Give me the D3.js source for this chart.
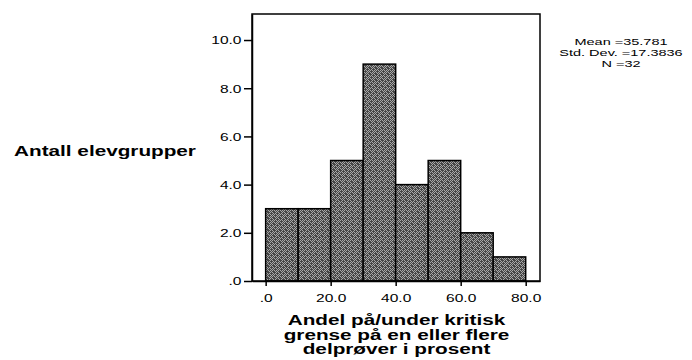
<!DOCTYPE html>
<html lang="no">
<head>
  <meta charset="utf-8">
  <title>Antall elevgrupper</title>
  <script src="https://d3js.org/d3.v7.min.js"></script>
  <style>
    body { margin: 0; background: #fff; }
    #chart text { font-family: "Liberation Sans", Arial, sans-serif; fill: #000; }
  </style>
</head>
<body>
  <div id="chart"></div>
  <script>
    "use strict"

    // data
    var binStarts = [0, 10, 20, 30, 40, 50, 60, 70];
    var binEnds   = [10, 20, 30, 40, 50, 60, 70, 80];
    var counts    = [3, 3, 5, 9, 4, 5, 2, 1];
    var yTicks = [0, 2, 4, 6, 8, 10];
    var xTicks = [0, 20, 40, 60, 80];
    var statLines = ["Mean =35.781", "Std. Dev. =17.3836", "N =32"];
    var yTitle = "Antall elevgrupper";
    var xTitle = ["Andel på/under kritisk", "grense på en eller flere", "delprøver i prosent"];

    var largura = 692, altura = 360;
    var stretch = 1.48;   // the original export is wide, text is stretched sideways
    var fmt = function(d) { return d === 0 ? ".0" : d.toFixed(1); };

    var svg = d3.select('#chart').append('svg')
                .attr('width', largura)
                .attr('height', altura);

    // fill texture
    var pat = svg.append('defs').append('pattern')
                 .attr('id', 'tex')
                 .attr('patternUnits', 'userSpaceOnUse')
                 .attr('width', 6).attr('height', 6);
    pat.append('rect').attr('width', 6).attr('height', 6).attr('fill', '#464646');
    [[0,0],[2,0],[4,0],[1,1],[5,1],[0,2],[2,2],[3,3],[5,3],[0,4],[2,4],[4,4],[1,5],[3,5]].forEach(function(p) {
      pat.append('rect').attr('x', p[0]).attr('y', p[1]).attr('width', 1).attr('height', 1).attr('fill', '#a8a8a8');
    });

    var x = d3.scaleLinear().domain([-4.2, 84.4]).range([252, 540]);
    var y = d3.scaleLinear().domain([0, 11.08]).range([281, 14]);

    // bars
    svg.selectAll('rect.bar')
       .data(counts)
       .enter()
       .append('rect')
         .attr('class', 'bar')
         .attr('x', (d, i) => x(binStarts[i]))
         .attr('width', (d, i) => x(binEnds[i]) - x(binStarts[i]))
         .attr('y', d => y(d))
         .attr('height', d => y(0) - y(d))
         .attr('fill', 'url(#tex)')
         .attr('stroke', '#000')
         .attr('stroke-width', 1.5);

    // frame
    svg.append('rect')
       .attr('x', x(-4.2)).attr('y', y(11.08))
       .attr('width', x(84.4) - x(-4.2))
       .attr('height', y(0) - y(11.08))
       .attr('fill', 'none')
       .attr('stroke', '#000')
       .attr('stroke-width', 1.5);

    // y axis
    var gy = svg.append('g')
                .attr('transform', 'translate(' + x(-4.2) + ',0)')
                .call(d3.axisLeft(y).tickValues(yTicks).tickFormat(fmt).tickSize(8).tickSizeOuter(0));
    gy.select('.domain').attr('stroke-width', 1.5);
    gy.selectAll('line').attr('stroke-width', 1.5);
    gy.selectAll('text')
      .attr('x', null).attr('dy', '0.36em')
      .attr('transform', 'translate(-10.5,0) scale(' + stretch + ',1)')
      .style('font-size', '10.5px');

    // x axis
    var gx = svg.append('g')
                .attr('transform', 'translate(0,' + y(0) + ')')
                .call(d3.axisBottom(x).tickValues(xTicks).tickFormat(fmt).tickSize(5).tickSizeOuter(0));
    gx.select('.domain').attr('stroke-width', 1.5);
    gx.selectAll('line').attr('stroke-width', 1.5);
    gx.selectAll('text')
      .attr('y', null).attr('dy', null)
      .attr('transform', 'translate(0,21) scale(' + stretch + ',1)')
      .style('font-size', '10.5px');

    // titles
    svg.append('text')
       .attr('transform', 'translate(105,156) scale(' + stretch + ',1)')
       .attr('text-anchor', 'middle')
       .style('font-size', '14px')
       .style('font-weight', 'bold')
       .text(yTitle);

    svg.selectAll('text.xtitle')
       .data(xTitle)
       .enter()
       .append('text')
         .attr('class', 'xtitle')
         .attr('transform', (d, i) => 'translate(396.5,' + (325 + i * 14.5) + ') scale(' + stretch + ',1)')
         .attr('text-anchor', 'middle')
         .style('font-size', '14px')
         .style('font-weight', 'bold')
         .text(d => d);

    // statistics
    svg.selectAll('text.stat')
       .data(statLines)
       .enter()
       .append('text')
         .attr('class', 'stat')
         .attr('transform', (d, i) => 'translate(621,' + (45 + i * 11) + ') scale(' + stretch + ',1)')
         .attr('text-anchor', 'middle')
         .style('font-size', '9.8px')
         .text(d => d);
  </script>
</body>
</html>
